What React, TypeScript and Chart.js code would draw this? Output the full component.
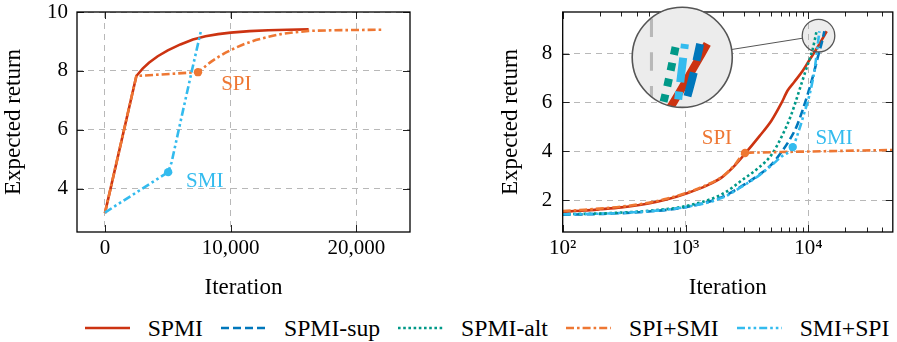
import React, { useEffect, useRef } from 'react';
import { Chart, registerables } from 'chart.js';

Chart.register(...registerables);

const SERIF = "'Liberation Serif', 'DejaVu Serif', serif";

// ---------- series ----------
const seriesNames = ['SPMI', 'SPMI-sup', 'SPMI-alt', 'SPI+SMI', 'SMI+SPI'];

// ---------- left panel (linear iterations) ----------
const leftXTicks = [0, 10000, 20000];
const leftYTicks = [4, 6, 8, 10];

const leftSpmiX = [0, 2500, 3000, 3500, 4200, 5000, 6000, 7000, 8000, 9000, 10000, 11500, 13000, 14500, 16200];
const leftSpmiY = [3.18, 7.83, 8.08, 8.28, 8.5, 8.7, 8.9, 9.07, 9.18, 9.25, 9.3, 9.35, 9.38, 9.4, 9.41];

const leftSpiSmiX = [0, 2500, 7400, 7900, 8400, 9000, 9600, 10300, 11000, 12000, 13000, 14000, 15000, 16200, 18000, 20000, 22100];
const leftSpiSmiY = [3.18, 7.83, 7.96, 8.13, 8.3, 8.47, 8.62, 8.77, 8.9, 9.05, 9.16, 9.25, 9.31, 9.36, 9.38, 9.39, 9.4];

const leftSmiSpiX = [0, 5030, 5300, 6100, 6900, 7620];
const leftSmiSpiY = [3.2, 4.57, 4.9, 6.45, 7.98, 9.33];

const leftSpiPoint = [7400, 7.96];
const leftSmiPoint = [5030, 4.57];

// ---------- right panel (log iterations) ----------
const rightXMajor = [100, 1000, 10000];
const rightYTicks = [2, 4, 6, 8];

const rightSpmiX = [100, 150, 200, 300, 500, 700, 1000, 1500, 2000, 2500, 3050, 4000, 5000, 6000, 6800, 7700, 9000, 10200, 11500, 12800, 14100];
const rightSpmiY = [1.52, 1.57, 1.62, 1.7, 1.86, 2.02, 2.26, 2.6, 2.95, 3.4, 3.9, 4.62, 5.25, 5.95, 6.5, 6.85, 7.3, 7.74, 8.15, 8.55, 8.92];

const rightSupX = [100, 200, 500, 1000, 2000, 3000, 4000, 5000, 6000, 7000, 8000, 9000, 10000, 11000, 12000, 13000, 13500];
const rightSupY = [1.4, 1.43, 1.53, 1.71, 2.13, 2.63, 3.05, 3.45, 3.95, 4.45, 5.0, 5.7, 6.42, 7.15, 7.9, 8.55, 8.92];

const rightAltX = [100, 200, 500, 1000, 2000, 3000, 4000, 5000, 6200, 7200, 8200, 9500, 10800, 11700];
const rightAltY = [1.42, 1.45, 1.56, 1.75, 2.25, 2.88, 3.35, 3.85, 4.7, 5.45, 6.3, 7.3, 8.15, 8.95];

const rightSpiSmiX = [100, 150, 200, 300, 500, 700, 1000, 1500, 2000, 2500, 3050, 4000, 6000, 10000, 20000, 48700];
const rightSpiSmiY = [1.55, 1.6, 1.65, 1.73, 1.89, 2.05, 2.28, 2.63, 2.97, 3.42, 3.93, 3.95, 3.97, 3.99, 4.02, 4.05];

const rightSmiSpiX = [100, 200, 500, 1000, 2000, 3000, 4000, 5000, 6000, 7460, 8500, 9300, 10200, 11200, 12300];
const rightSmiSpiY = [1.42, 1.44, 1.54, 1.71, 2.1, 2.61, 3.02, 3.42, 3.77, 4.17, 4.95, 5.6, 6.3, 7.3, 8.92];

const rightSpiPoint = [3050, 3.93];
const rightSmiPoint = [7460, 4.17];

// ---------- styles ----------
const STYLE: any = {
  spmi: { color: '#CC3311', dash: [] },
  sup: { color: '#0077BB', dash: [8, 4] },
  alt: { color: '#009988', dash: [2.6, 2.6] },
  spiSmi: { color: '#EE7733', dash: [8, 3, 2.6, 3] },
  smiSpi: { color: '#33BBEE', dash: [8, 3, 2.6, 3, 2.6, 3] },
};
const STYLE_KEYS = ['spmi', 'sup', 'alt', 'spiSmi', 'smiSpi'];
const LINE_W = 2.6;
const GRID = '#b8b8b8';
const GRID_DASH = [6, 5];
const TICK_FONT = { family: SERIF, size: 21 };
const TITLE_FONT = { family: SERIF, size: 23 };
const SUP: any = { 2: '\u00B2', 3: '\u00B3', 4: '\u2074' };
const X_MIN_R = 100;
const X_MAX_R = 48700;
const SPY_FILL = '#ececec';

const pts = (xs: number[], ys: number[]) => xs.map((x, i) => ({ x, y: ys[i] }));

function lineDs(label: string, key: string, xs: number[], ys: number[], order: number, smooth: boolean) {
  return {
    label,
    data: pts(xs, ys),
    borderColor: STYLE[key].color,
    borderWidth: LINE_W,
    borderDash: STYLE[key].dash,
    borderCapStyle: 'butt',
    borderJoinStyle: 'miter',
    pointRadius: 0,
    fill: false,
    order,
    tension: 0,
    cubicInterpolationMode: smooth ? 'monotone' : 'default',
  };
}

function markerDs(label: string, key: string, p: number[]) {
  return {
    label,
    data: [{ x: p[0], y: p[1] }],
    showLine: false,
    pointRadius: 4.2,
    pointBorderWidth: 0,
    pointBackgroundColor: STYLE[key].color,
    order: 0,
  };
}

function makeDecor(cfg: any) {
  return {
    id: 'decor',
    beforeDraw(chart: any) {
      if (!cfg.spy) return;
      const { ctx } = chart;
      const xs = chart.scales.x, ys = chart.scales.y;
      const sx = xs.getPixelForValue(cfg.spy.source[0]);
      const sy = ys.getPixelForValue(cfg.spy.source[1]);
      ctx.save();
      ctx.beginPath();
      ctx.arc(sx, sy, cfg.spy.radius, 0, Math.PI * 2);
      ctx.fillStyle = SPY_FILL;
      ctx.fill();
      ctx.restore();
    },
    afterDatasetsDraw(chart: any) {
      const { ctx, chartArea: a } = chart;
      const xs = chart.scales.x, ys = chart.scales.y;
      ctx.save();
      ctx.strokeStyle = '#222';
      ctx.lineWidth = 1;
      ctx.setLineDash([]);
      ctx.beginPath();
      for (const t of xs.ticks) {
        const px = Math.round(xs.getPixelForValue(t.value)) + 0.5;
        if (px < a.left - 1 || px > a.right + 1) continue;
        const len = cfg.isMajorX(t.value) ? 7 : 4.5;
        ctx.moveTo(px, a.bottom); ctx.lineTo(px, a.bottom - len);
        ctx.moveTo(px, a.top); ctx.lineTo(px, a.top + len);
      }
      for (const t of ys.ticks) {
        const py = Math.round(ys.getPixelForValue(t.value)) + 0.5;
        ctx.moveTo(a.left, py); ctx.lineTo(a.left + 7, py);
        ctx.moveTo(a.right, py); ctx.lineTo(a.right - 7, py);
      }
      ctx.stroke();
      ctx.strokeStyle = '#000';
      ctx.lineWidth = 1.3;
      ctx.strokeRect(a.left, a.top, a.right - a.left, a.bottom - a.top);
      ctx.font = `21px ${SERIF}`;
      ctx.textAlign = 'center';
      ctx.textBaseline = 'middle';
      for (const l of cfg.labels) {
        ctx.fillStyle = l.color;
        ctx.fillText(l.text, xs.getPixelForValue(l.x), ys.getPixelForValue(l.y));
      }
      ctx.restore();
    },
    afterDraw(chart: any) {
      if (!cfg.spy) return;
      const { ctx } = chart;
      const xs = chart.scales.x, ys = chart.scales.y;
      const s = cfg.spy;
      const sx = xs.getPixelForValue(s.source[0]);
      const sy = ys.getPixelForValue(s.source[1]);
      const tx = xs.getPixelForValue(s.target[0]);
      const ty = ys.getPixelForValue(s.target[1]);
      const r = s.radius;
      const z = s.zoom;
      const R = r * z;
      // magnified view: re-draw grid and datasets through a scaled transform
      ctx.save();
      ctx.beginPath();
      ctx.arc(tx, ty, R, 0, Math.PI * 2);
      ctx.fillStyle = SPY_FILL;
      ctx.fill();
      ctx.clip();
      ctx.translate(tx - sx * z, ty - sy * z);
      ctx.scale(z, z);
      try {
        xs.drawGrid(chart.chartArea);
        ys.drawGrid(chart.chartArea);
      } catch (e) { /* ignore */ }
      const metas = chart.getSortedVisibleDatasetMetas();
      for (let i = metas.length - 1; i >= 0; i--) {
        ctx.save();
        metas[i].controller.draw();
        ctx.restore();
      }
      ctx.restore();
      // outlines and connector
      ctx.save();
      ctx.setLineDash([]);
      ctx.strokeStyle = '#555';
      ctx.lineWidth = 1;
      const dx = sx - tx, dy = sy - ty;
      const d = Math.hypot(dx, dy);
      const ux = dx / d, uy = dy / d;
      ctx.beginPath();
      ctx.moveTo(tx + ux * R, ty + uy * R);
      ctx.lineTo(sx - ux * r, sy - uy * r);
      ctx.stroke();
      ctx.lineWidth = 1.6;
      ctx.beginPath();
      ctx.arc(tx, ty, R, 0, Math.PI * 2);
      ctx.stroke();
      ctx.lineWidth = 1.3;
      ctx.beginPath();
      ctx.arc(sx, sy, r, 0, Math.PI * 2);
      ctx.stroke();
      ctx.restore();
    },
  };
}

function baseOptions(yWidth: number, yTitlePad: number, yPad: number, padRight: number) {
  return {
    layout: { padding: { top: 12, right: padRight, bottom: 0, left: 0 } },
    plugins: { legend: { display: false }, tooltip: { enabled: false } },
    yAxis: {
      afterFit: (s: any) => { s.width = yWidth; s.paddingTop = 0; s.paddingBottom = 0; },
      ticks: { font: TICK_FONT, color: '#000', padding: yPad },
      grid: { color: GRID, lineWidth: 1, drawTicks: false, borderDash: GRID_DASH },
      border: { display: false, dash: GRID_DASH },
      title: { display: true, text: 'Expected return', font: TITLE_FONT, color: '#000', padding: { top: yTitlePad, bottom: 0 } },
    },
    xAxis: {
      afterFit: (s: any) => { s.height = 73; s.paddingLeft = 0; s.paddingRight = 0; },
      ticks: { font: TICK_FONT, color: '#000', padding: 4, maxRotation: 0, minRotation: 0, autoSkip: false },
      border: { display: false, dash: GRID_DASH },
      title: { display: true, text: 'Iteration', font: TITLE_FONT, color: '#000', padding: { top: 0, bottom: 3 } },
    },
  };
}

function leftConfig(): any {
  const b: any = baseOptions(77, 0, 9, 30);
  return {
    type: 'line',
    data: {
      datasets: [
        markerDs('SPI', 'spiSmi', leftSpiPoint),
        markerDs('SMI', 'smiSpi', leftSmiPoint),
        lineDs(seriesNames[0], 'spmi', leftSpmiX, leftSpmiY, 5, false),
        lineDs(seriesNames[3], 'spiSmi', leftSpiSmiX, leftSpiSmiY, 2, false),
        lineDs(seriesNames[4], 'smiSpi', leftSmiSpiX, leftSmiSpiY, 1, false),
      ],
    },
    options: {
      responsive: false, animation: false, devicePixelRatio: 1, events: [],
      layout: b.layout, plugins: b.plugins,
      scales: {
        x: {
          ...b.xAxis,
          type: 'linear', min: -2220, max: 24260,
          afterBuildTicks: (s: any) => { s.ticks = leftXTicks.map((v) => ({ value: v })); },
          ticks: { ...b.xAxis.ticks, callback: (v: any) => Number(v).toLocaleString('en-US') },
          grid: { color: GRID, lineWidth: 1, drawTicks: false, borderDash: GRID_DASH },
        },
        y: {
          ...b.yAxis,
          type: 'linear', min: 2.54, max: 10,
          afterBuildTicks: (s: any) => { s.ticks = leftYTicks.map((v) => ({ value: v })); },
          ticks: { ...b.yAxis.ticks, callback: (v: any) => String(v) },
        },
      },
    },
    plugins: [makeDecor({
      isMajorX: () => true,
      labels: [
        { text: 'SPI', x: 10450, y: 7.53, color: STYLE.spiSmi.color },
        { text: 'SMI', x: 7940, y: 4.25, color: STYLE.smiSpi.color },
      ],
    })],
  };
}

function rightConfig(): any {
  const b: any = baseOptions(82.7, 17, 10.5, 1);
  const isMajor = (v: number) => rightXMajor.includes(v);
  const allTicks: number[] = [];
  rightXMajor.forEach((m) => {
    for (let k = 1; k <= 9; k++) {
      const v = m * k;
      if (v >= X_MIN_R && v <= X_MAX_R) allTicks.push(v);
    }
  });
  return {
    type: 'line',
    data: {
      datasets: [
        markerDs('SPI', 'spiSmi', rightSpiPoint),
        markerDs('SMI', 'smiSpi', rightSmiPoint),
        lineDs(seriesNames[0], 'spmi', rightSpmiX, rightSpmiY, 5, true),
        lineDs(seriesNames[1], 'sup', rightSupX, rightSupY, 4, true),
        lineDs(seriesNames[2], 'alt', rightAltX, rightAltY, 3, true),
        lineDs(seriesNames[3], 'spiSmi', rightSpiSmiX, rightSpiSmiY, 2, true),
        lineDs(seriesNames[4], 'smiSpi', rightSmiSpiX, rightSmiSpiY, 1, true),
      ],
    },
    options: {
      responsive: false, animation: false, devicePixelRatio: 1, events: [],
      layout: b.layout, plugins: b.plugins,
      scales: {
        x: {
          ...b.xAxis,
          type: 'logarithmic', min: X_MIN_R, max: X_MAX_R,
          afterBuildTicks: (s: any) => { s.ticks = allTicks.map((v) => ({ value: v })); },
          ticks: {
            ...b.xAxis.ticks,
            callback: (v: any) => (isMajor(v) ? '10' + SUP[Math.round(Math.log10(v))] : ''),
          },
          grid: {
            color: (c: any) => (c.tick && isMajor(c.tick.value) ? GRID : 'rgba(0,0,0,0)'),
            lineWidth: 1, drawTicks: false, borderDash: GRID_DASH,
          },
        },
        y: {
          ...b.yAxis,
          type: 'linear', min: 0.69, max: 9.71,
          afterBuildTicks: (s: any) => { s.ticks = rightYTicks.map((v) => ({ value: v })); },
          ticks: { ...b.yAxis.ticks, callback: (v: any) => String(v) },
        },
      },
    },
    plugins: [makeDecor({
      isMajorX: isMajor,
      labels: [
        { text: 'SPI', x: 1800, y: 4.53, color: STYLE.spiSmi.color },
        { text: 'SMI', x: 16200, y: 4.53, color: STYLE.smiSpi.color },
      ],
      spy: { source: [12100, 8.74], target: [940, 7.85], radius: 16.3, zoom: 3.07 },
    })],
  };
}

function ChartCanvas({ left, width, height, makeConfig }: any) {
  const ref = useRef<HTMLCanvasElement | null>(null);
  useEffect(() => {
    const chart = new Chart(ref.current as HTMLCanvasElement, makeConfig());
    return () => chart.destroy();
  }, []);
  return (
    <canvas
      ref={ref}
      width={width}
      height={height}
      style={{ position: 'absolute', left, top: 0, width, height }}
    />
  );
}

function Legend() {
  return (
    <div
      style={{
        position: 'absolute', left: 84.7, top: 316, height: 24,
        display: 'flex', alignItems: 'center', fontFamily: SERIF,
        fontSize: 23.7, lineHeight: '24px', whiteSpace: 'nowrap', color: '#000',
      }}
    >
      {seriesNames.map((name, i) => {
        const st = STYLE[STYLE_KEYS[i]];
        return (
          <div key={name} style={{ display: 'flex', alignItems: 'center', marginRight: 18 }}>
            <svg width={45} height={6} style={{ display: 'block' }}>
              <line
                x1={0} y1={3} x2={45} y2={3}
                stroke={st.color} strokeWidth={LINE_W}
                strokeDasharray={st.dash.length ? st.dash.join(' ') : undefined}
              />
            </svg>
            <span style={{ marginLeft: 18 }}>{name}</span>
          </div>
        );
      })}
    </div>
  );
}

export default function App() {
  return (
    <div style={{ position: 'absolute', left: 0, top: 0, width: 897, height: 342, background: '#fff', overflow: 'hidden' }}>
      <ChartCanvas left={0} width={440} height={305} makeConfig={leftConfig} />
      <ChartCanvas left={480} width={417} height={305} makeConfig={rightConfig} />
      <Legend />
    </div>
  );
}
